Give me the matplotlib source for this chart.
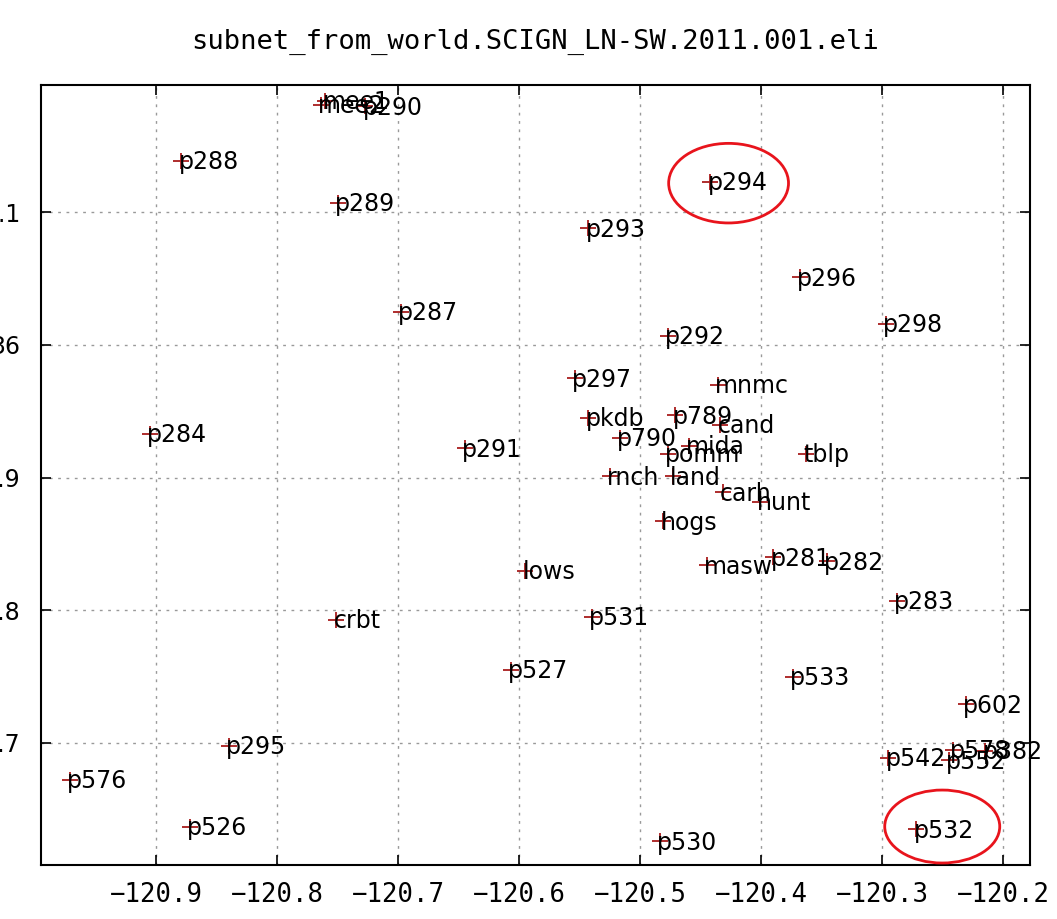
import matplotlib

matplotlib.use("Agg")
import matplotlib.pyplot as plt
from matplotlib.patches import Ellipse

# Station positions (lon, lat in degrees)
STATIONS = [
    "mee1", "mee2", "p290", "p288", "p289", "p294", "p293", "p296", "p287",
    "p298", "p292", "p297", "mnmc", "p284", "pkdb", "p789", "cand", "p790",
    "pomm", "mida", "p291", "tblp", "rnch", "land", "carh", "hunt", "hogs",
    "lows", "masw", "p281", "p282", "p283", "crbt", "p531", "p527", "p533",
    "p602", "p295", "p542", "p552", "p578", "p382", "p576", "p526", "p530",
    "p532",
]
LONS = [
    -120.760, -120.764, -120.727, -120.879, -120.750, -120.442, -120.543,
    -120.368, -120.698, -120.297, -120.477, -120.554, -120.436, -120.905,
    -120.543, -120.471, -120.434, -120.517, -120.477, -120.460, -120.645,
    -120.363, -120.525, -120.473, -120.432, -120.401, -120.481, -120.595,
    -120.445, -120.390, -120.346, -120.288, -120.751, -120.540, -120.607,
    -120.374, -120.231, -120.840, -120.295, -120.245, -120.242, -120.215,
    -120.971, -120.872, -120.484, -120.272,
]
LATS = [
    36.184, 36.181, 36.180, 36.139, 36.107, 36.123, 36.088, 36.051, 36.025,
    36.016, 36.007, 35.975, 35.970, 35.933, 35.945, 35.947, 35.940, 35.930,
    35.918, 35.924, 35.922, 35.918, 35.901, 35.901, 35.889, 35.882, 35.867,
    35.830, 35.834, 35.840, 35.837, 35.807, 35.793, 35.795, 35.755, 35.750,
    35.729, 35.698, 35.689, 35.687, 35.695, 35.694, 35.672, 35.637, 35.626,
    35.635,
]

X_TICKS = [-120.9, -120.8, -120.7, -120.6, -120.5, -120.4, -120.3, -120.2]
Y_TICKS = [35.7, 35.8, 35.9, 36.0, 36.1]
Y_TICK_LABELS = ["35.7", "35.8", "35.9", "36", "36.1"]

TITLE = "subnet_from_world.SCIGN_LN-SW.2011.001.eli"
HIGHLIGHTED = ["p294", "p532"]

MONO = "DejaVu Sans Mono"
SANS = "DejaVu Sans"

fig = plt.figure(figsize=(10.57, 9.19), dpi=100)
ax = fig.add_axes([41 / 1057, 1 - 865 / 919, (1030 - 41) / 1057, (865 - 85) / 919])

ax.plot(LONS, LATS, linestyle="none", marker="+", markersize=11,
        markeredgewidth=1.3, color="#a81c1c", zorder=3)
for name, lon, lat in zip(STATIONS, LONS, LATS):
    ax.annotate(name, (lon, lat), xytext=(-2, -1), textcoords="offset points",
                ha="left", va="center", fontsize=17, family=SANS,
                color="black", zorder=4, annotation_clip=False)

# red circles drawn around two stations
offsets = {"p294": (0.015, -0.001, 0.099, 0.060), "p532": (0.0215, 0.002, 0.095, 0.055)}
for name in HIGHLIGHTED:
    i = STATIONS.index(name)
    dx, dy, w, h = offsets[name]
    ax.add_patch(Ellipse((LONS[i] + dx, LATS[i] + dy), w, h, fill=False,
                         edgecolor="#e8141c", linewidth=2, zorder=5, clip_on=False))

ax.set_xlim(-120.995, -120.178)
ax.set_ylim(35.608, 36.196)
ax.set_xticks(X_TICKS)
ax.set_xticklabels([f"{x:.1f}".replace("-", "\u2212") for x in X_TICKS],
                   family=MONO, fontsize=18.5)
ax.set_yticks(Y_TICKS)
ax.set_yticklabels(Y_TICK_LABELS, family=SANS, fontsize=17)
ax.tick_params(direction="in", length=7, width=1.2, top=True, right=True)
ax.tick_params(axis="x", pad=12)
ax.tick_params(axis="y", pad=15)
ax.grid(True, linestyle=(0, (2, 4)), color="#999999", linewidth=1)
for spine in ax.spines.values():
    spine.set_linewidth(1.5)

fig.text(535 / 1057, 1 - 42 / 919, TITLE, ha="center", va="center",
         family=MONO, fontsize=19.5)

fig.savefig("out.png", dpi=100)
